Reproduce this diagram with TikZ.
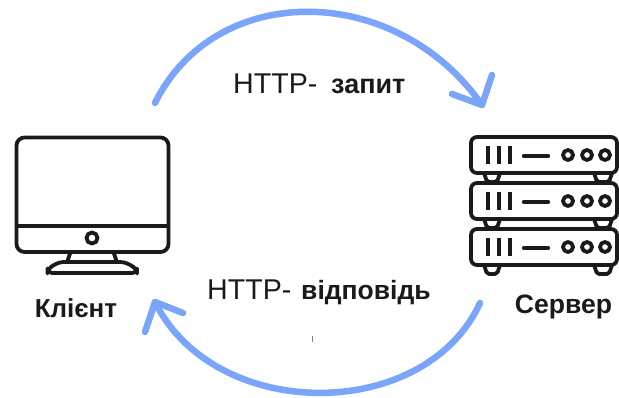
\documentclass[tikz,border=0pt]{standalone}
\usepackage{fontspec}
\setmainfont{Liberation Sans}
\definecolor{flow}{HTML}{7BA5FB}
\definecolor{ink}{HTML}{1A1A1A}
\tikzset{
  flowline/.style={draw=flow,line width=6.5pt,line cap=round,line join=round},
  icon/.style={draw=ink,line width=3.8pt,line join=round},
  thick icon/.style={draw=ink,line width=4.4pt,line cap=round},
  lightlabel/.style={inner sep=0pt,anchor=base west,text=ink,font=\fontsize{28.6}{28.6}\selectfont},
  boldlabel/.style={inner sep=0pt,anchor=base west,text=ink,font=\bfseries},
  name label/.style={inner sep=0pt,anchor=base,text=ink,font=\bfseries}
}
\begin{document}
\begin{tikzpicture}[x=1pt,y=-1pt]
\useasboundingbox (0,0) rectangle (619,398);
% monitor
\draw[icon] (70.5,252) -- (67.5,261) (113.5,252) -- (116.5,261);
\draw[icon,rounded corners=8pt] (16.5,137.5) rectangle (168.5,252);
\draw[icon] (16.5,226) -- (168.5,226);
\draw[icon] (92,238) circle (5.5);
\draw[icon,rounded corners=4.5pt] (47.5,273) -- (137,273) -- (137,269) -- (125,262) -- (59,262) -- (47.5,269) -- cycle;
% server
\foreach \yc in {155,201,247}{
  \draw[icon,rounded corners=6pt] (471,\yc-18) rectangle (617,\yc+18);
  \foreach \xb in {488,499,510} \draw[thick icon,line cap=butt] (\xb,\yc-9) -- (\xb,\yc+9);
  \draw[thick icon] (524,\yc+1) -- (548,\yc+1);
  \foreach \xc in {568,587,605} \draw[icon] (\xc,\yc) circle (5);
}
\foreach \yc in {173,219,265}{
  \draw[icon,rounded corners=2pt] (484,\yc) -- (487,\yc+9) -- (497,\yc+9) -- (500,\yc);
  \draw[icon,rounded corners=2pt] (594,\yc) -- (597,\yc+9) -- (609,\yc+9) -- (612,\yc);
}
% labels
\node[lightlabel] (reqa) at (233,94) {HTTP-};
\node[boldlabel,font=\fontsize{27}{27}\selectfont\bfseries] (reqb) at (331,94) {запит};
\node[lightlabel] (resa) at (207,300) {HTTP-};
\node[boldlabel,font=\fontsize{26.5}{26.5}\selectfont\bfseries] (resb) at (301,300) {відповідь};
\node[name label,font=\fontsize{26}{26}\selectfont\bfseries] (client) at (76,318) {Клієнт};
\node[name label,font=\fontsize{26.6}{26.6}\selectfont\bfseries] (server) at (563.5,313) {Сервер};
% flows
\coordinate (a1) at (155,103);
\coordinate (a2) at (482,105);
\coordinate (b1) at (480,303);
\coordinate (b2) at (155,302);
\draw[flowline] (a1) .. controls (215,-19) and (395,-19) .. (a2);
\draw[flowline] (452,94) -- (a2) -- (492,75);
\draw[flowline] (b1) .. controls (425,423) and (215,423) .. (b2);
\draw[flowline] (183,313) -- (b2) -- (145,332);
\draw[gray,line width=0.8pt] (312,336) -- (312,342);
\end{tikzpicture}
\end{document}
